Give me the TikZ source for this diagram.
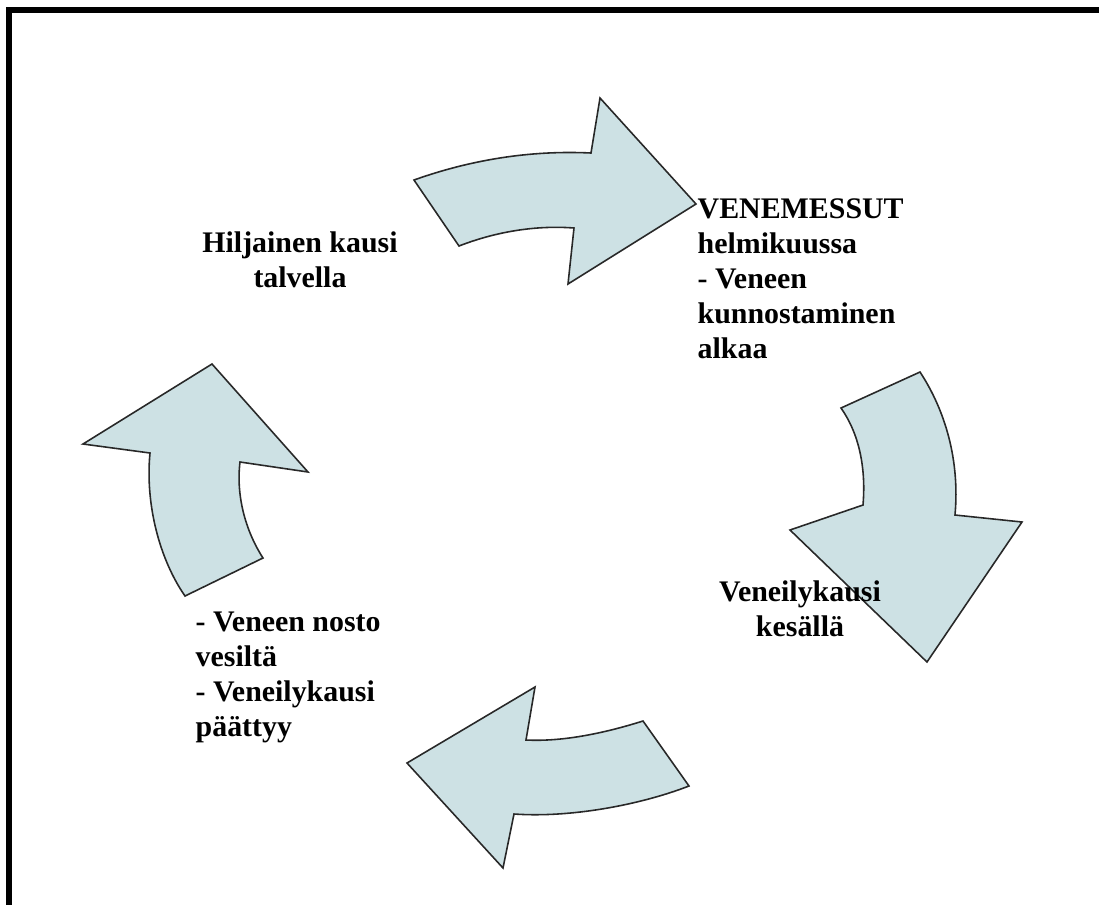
\documentclass[tikz,border=0pt]{standalone}
\usepackage{fontspec}
\setmainfont{Liberation Serif}
\definecolor{arrowfill}{RGB}{205,225,228}
\definecolor{arrowline}{RGB}{40,40,40}
\tikzset{
  cyclearrow/.style={fill=arrowfill, draw=arrowline, line width=0.45pt, line join=miter},
  lbl/.style={inner sep=0pt, font=\fontsize{8.5}{9.92}\selectfont\bfseries},
  frame/.style={fill=black}
}
\begin{document}
\begin{tikzpicture}[x=0.01cm,y=-0.01cm]
\useasboundingbox (0,0) rectangle (1099,905);
% frame (top and left edges)
\fill[frame] (6,7) rectangle (1099,13);
\fill[frame] (6,7) rectangle (12,905);
% top arrow
\path[cyclearrow] (414,180) .. controls (470,160) and (530,150) .. (591,153) -- (600,98) -- (696,204) -- (568,284) -- (574,228) .. controls (535,225) and (495,232) .. (459,246) -- cycle;
% right arrow
\path[cyclearrow] (841,408) -- (920,372) .. controls (945,410) and (960,460) .. (955,515) -- (1022,522) -- (927,662) -- (790,530) -- (863,505) .. controls (866,470) and (860,435) .. (841,408) -- cycle;
% bottom arrow
\path[cyclearrow] (535,687) -- (526,740) .. controls (565,742) and (608,732) .. (643,721) -- (689,786) .. controls (640,805) and (570,818) .. (514,814) -- (503,868) -- (407,763) -- cycle;
% left arrow
\path[cyclearrow] (212,364) -- (308,472) -- (240,462) .. controls (236,495) and (245,530) .. (263,558) -- (185,596) .. controls (160,560) and (145,505) .. (150,453) -- (83,444) -- cycle;
% labels (anchored at the baseline of their last line)
\node[lbl, align=center, anchor=base] (winter) at (300,287) {Hiljainen kausi\\talvella};
\node[lbl, align=left, anchor=base west] (fair) at (697,358) {VENEMESSUT\\helmikuussa\\- Veneen\\kunnostaminen\\alkaa};
\node[lbl, align=center, anchor=base] (summer) at (800,636) {Veneilykausi\\kesällä};
\node[lbl, align=left, anchor=base west] (autumn) at (195,736) {- Veneen nosto\\vesiltä\\- Veneilykausi\\päättyy};
\end{tikzpicture}
\end{document}
